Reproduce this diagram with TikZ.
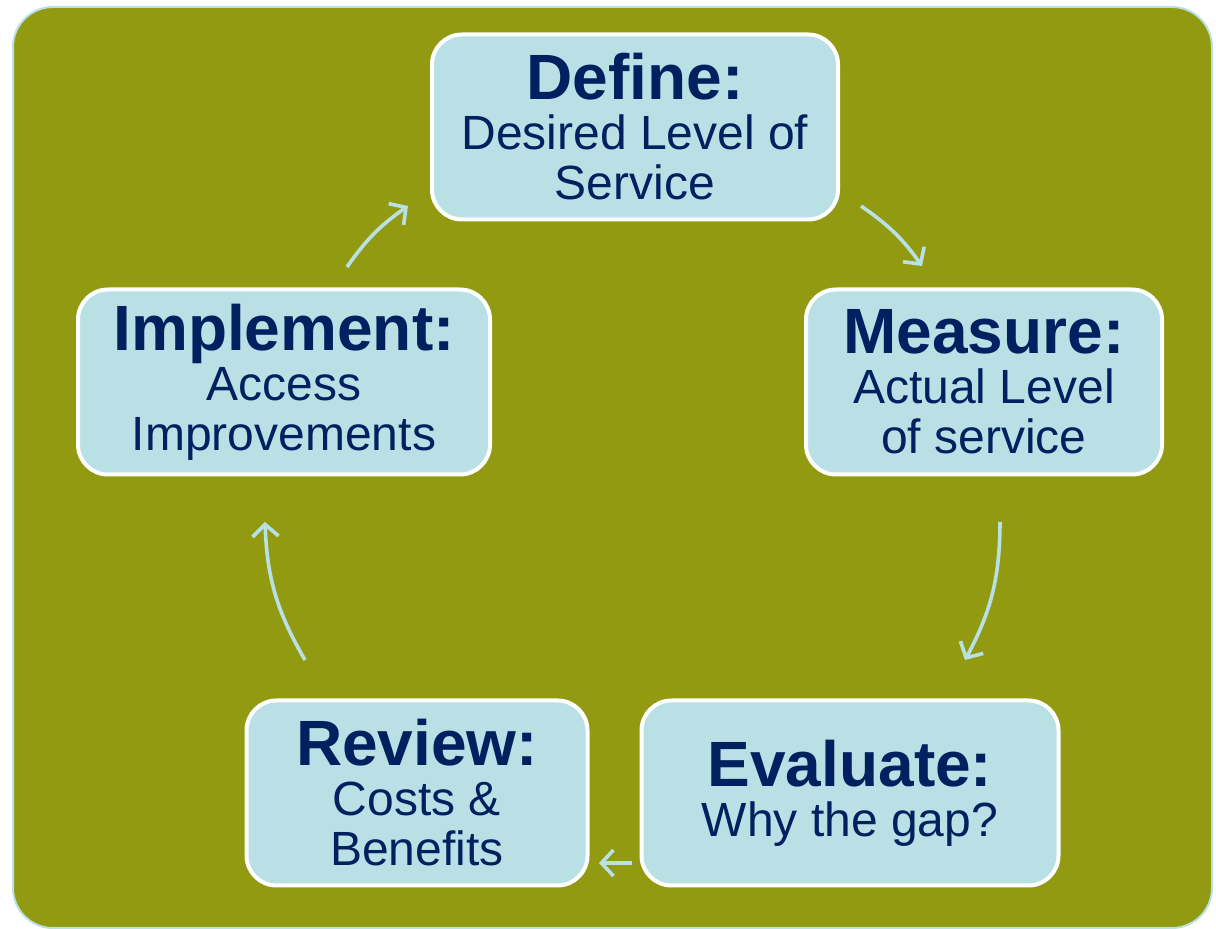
\documentclass[tikz,border=0pt]{standalone}
\usepackage{fontspec}
\setmainfont{Liberation Sans}
\usetikzlibrary{arrows.meta}
\definecolor{olive}{RGB}{146,154,18}
\definecolor{pale}{RGB}{185,224,228}
\definecolor{navy}{RGB}{0,32,96}
\tikzset{
    % Process step
    stage/.style={
        draw=white,
        fill=pale,
        line width=2pt,
        rounded corners=15pt,
        text=navy,
        align=center,
        minimum height=92.5pt,
        inner sep=2pt,
        font=\fontsize{24}{25}\selectfont,
    },
    % Cycle arrow
    flow/.style={
        draw=pale,
        line width=1.8pt,
        -{Straight Barb[length=6pt,width=13pt,line width=1.8pt]},
    },
}
\newcommand{\stagetitle}[1]{{\fontsize{32}{34}\selectfont\bfseries #1}}

\begin{document}
\begin{tikzpicture}[x=0.5pt,y=-0.5pt]
    \useasboundingbox (0,0) rectangle (1216,929);

    % Background panel
    \draw[draw=pale, fill=olive, line width=1pt, rounded corners=20pt] (13,7) rectangle (1212,928);

    % Stages
    \node[stage, minimum width=203pt] (define) at (635,127) {\stagetitle{Define:}\\Desired Level of\\Service};
    \node[stage, minimum width=178pt] (measure) at (984,382) {\stagetitle{Measure:}\\Actual Level\\of service};
    \node[stage, minimum width=208.5pt] (evaluate) at (850,793) {\stagetitle{Evaluate:}\\Why the gap?};
    \node[stage, minimum width=170.5pt] (review) at (417,793) {\stagetitle{Review:}\\Costs \&\\Benefits};
    \node[stage, minimum width=206pt] (implement) at (284,382) {\stagetitle{Implement:}\\Access\\Improvements};

    % Arrow ends
    \coordinate (d1) at (861,206);
    \coordinate (d2) at (922,266);
    \coordinate (m1) at (1000,522);
    \coordinate (m2) at (965,660);
    \coordinate (e1) at (632,863);
    \coordinate (e2) at (599,863);
    \coordinate (r1) at (305,660);
    \coordinate (r2) at (265,522);
    \coordinate (i1) at (347,267);
    \coordinate (i2) at (408,206);

    % Cycle arrows
    \draw[flow] (d1) to[bend left=10] (d2);
    \draw[flow] (m1) to[bend left=14] (m2);
    \draw[flow] (e1) -- (e2);
    \draw[flow] (r1) to[bend left=14] (r2);
    \draw[flow] (i1) to[bend left=10] (i2);
\end{tikzpicture}
\end{document}
